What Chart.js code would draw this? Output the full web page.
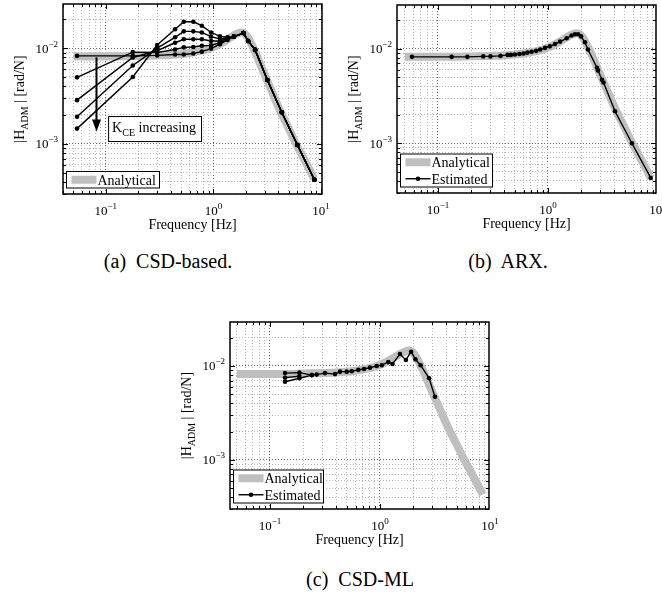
<!DOCTYPE html>
<html>
<head>
<meta charset="utf-8">
<script src="https://cdn.jsdelivr.net/npm/chart.js@4.4.0/dist/chart.umd.min.js"></script>
<style>
  body { margin: 0; background: #fff; width: 662px; height: 598px; position: relative; overflow: hidden; font-family: "Liberation Serif", serif; }
  canvas { position: absolute; }
  .cap { position: absolute; font-size: 20px; white-space: pre; transform: translateX(-50%); color: #000; }
</style>
</head>
<body>
<canvas id="chartA" width="331" height="250" style="left:0;top:0"></canvas>
<canvas id="chartB" width="331" height="250" style="left:331px;top:0"></canvas>
<canvas id="chartC" width="340" height="270" style="left:165px;top:290px"></canvas>
<div class="cap" style="left:168px;top:250px">(a)  CSD-based.</div>
<div class="cap" style="left:508px;top:250px">(b)  ARX.</div>
<div class="cap" style="left:360px;top:568px">(c)  CSD-ML</div>
<script>
// analytical response (same in all three panels)
const anaFreq = [0.05, 0.1, 0.2, 0.3, 0.4, 0.5, 0.6, 0.7, 0.8, 0.9, 1.0, 1.1, 1.2, 1.3, 1.4, 1.5, 1.6, 1.7, 1.8, 1.9, 2.0, 2.1, 2.2, 2.35, 2.5, 2.8, 3.1, 3.5, 4.1, 5.0, 5.8, 7.0, 8.6];
const anaMag = [0.0082, 0.0082, 0.0083, 0.0084, 0.0085, 0.0087, 0.0089, 0.0092, 0.0095, 0.0098, 0.0103, 0.0108, 0.0114, 0.0120, 0.0127, 0.0133, 0.0139, 0.0143, 0.0146, 0.0145, 0.0138, 0.0128, 0.0117, 0.0100, 0.0086, 0.0063, 0.0048, 0.0035, 0.0023, 0.00145, 0.00102, 0.00068, 0.00043];

// (a) CSD-based, one curve per K_CE
const csdFreq = [0.054, 0.178, 0.30, 0.44, 0.53, 0.65, 0.78, 0.95, 1.15, 1.35, 1.55, 1.9, 2.1, 2.44, 3.17, 4.31, 6.03, 8.67];
const csdK1 = [0.0083, 0.0083, 0.0084, 0.0086, 0.0086, 0.0088, 0.0092, 0.0099, 0.0110, 0.0122, 0.0132, 0.0144, 0.0119, 0.0096, 0.00464, 0.00214, 0.00097, 0.00042];
const csdK2 = [0.00495, 0.0091, 0.0090, 0.0097, 0.0102, 0.0103, 0.0106, 0.0107, 0.0114, 0.0124, 0.0132, 0.0144, 0.0119, 0.0096, 0.00464, 0.00214, 0.00097, 0.00042];
const csdK3 = [0.00286, 0.0080, 0.0094, 0.0114, 0.0124, 0.0124, 0.0124, 0.0119, 0.0119, 0.0126, 0.0132, 0.0144, 0.0119, 0.0096, 0.00464, 0.00214, 0.00097, 0.00042];
const csdK4 = [0.00192, 0.0066, 0.0100, 0.0130, 0.0150, 0.0150, 0.0146, 0.0132, 0.0125, 0.0128, 0.0132, 0.0144, 0.0119, 0.0096, 0.00464, 0.00214, 0.00097, 0.00042];
const csdK5 = [0.00144, 0.0050, 0.0108, 0.0158, 0.0189, 0.0189, 0.0172, 0.0146, 0.0133, 0.0130, 0.0132, 0.0144, 0.0119, 0.0096, 0.00464, 0.00214, 0.00097, 0.00042];

// (b) ARX
const arxFreq = [0.058, 0.133, 0.185, 0.258, 0.30, 0.37, 0.43, 0.46, 0.50, 0.55, 0.60, 0.65, 0.71, 0.78, 0.85, 0.94, 1.04, 1.16, 1.29, 1.48, 1.64, 1.76, 1.88, 2.0, 2.17, 2.31, 2.79, 2.85, 3.1, 3.2, 4.07, 5.8, 8.6];
const arxMag = [0.0082, 0.0082, 0.0082, 0.0083, 0.0083, 0.0084, 0.0086, 0.0086, 0.0087, 0.0088, 0.0089, 0.0091, 0.0093, 0.0095, 0.0098, 0.0102, 0.0106, 0.0112, 0.0119, 0.0129, 0.0138, 0.0142, 0.0142, 0.0135, 0.0117, 0.0098, 0.0063, 0.0059, 0.0047, 0.0044, 0.00218, 0.00100, 0.00043];

// (c) CSD-ML
const mlFreq = [0.137, 0.185, 0.24, 0.266, 0.316, 0.39, 0.433, 0.498, 0.553, 0.635, 0.716, 0.811, 0.933, 1.04, 1.19, 1.3, 1.52, 1.72, 1.92, 2.1, 2.34, 2.8, 3.16];
const mlMag = [0.0084, 0.0085, 0.0080, 0.0081, 0.0084, 0.0082, 0.0087, 0.0087, 0.0088, 0.0091, 0.0093, 0.0096, 0.0100, 0.0102, 0.0110, 0.0105, 0.0134, 0.0116, 0.0142, 0.0118, 0.0102, 0.0074, 0.0047];
const mlFreq2 = [0.137, 0.185, 0.24];
const mlMag2 = [0.0068, 0.0074, 0.0080];
const mlFreq3 = [0.137, 0.185];
const mlMag3 = [0.0075, 0.0078];

// labelled ticks
const xTickValues = [0.1, 1, 10];
const yTickValues = [0.001, 0.01];

const FONT = '"Liberation Serif", serif';

const pts = (xs, ys) => xs.map((x, i) => ({ x: x, y: ys[i] }));
const isDecade = v => Math.abs(Math.log10(v) - Math.round(Math.log10(v))) < 1e-6;

// 1..9 x 10^n grid, like matlab's minor grid
function gridTicks(min, max) {
    const out = [];
    for (let e = -5; e <= 2; e++) {
        for (let m = 1; m <= 9; m++) {
            const v = m * Math.pow(10, e);
            if (v >= min * 0.999 && v <= max * 1.001) out.push({ value: v });
        }
    }
    return out;
}

function drawPow(ctx, v, x, y, align) {
    const e = Math.round(Math.log10(v));
    const exp = (e < 0 ? '\u2212' : '') + Math.abs(e);
    ctx.font = '13px ' + FONT;
    const wb = ctx.measureText('10').width;
    ctx.font = '9px ' + FONT;
    const we = ctx.measureText(exp).width;
    const x0 = align === 'center' ? x - (wb + we) / 2 : x - wb - we;
    ctx.textAlign = 'left';
    ctx.font = '13px ' + FONT;
    ctx.fillText('10', x0, y);
    ctx.font = '9px ' + FONT;
    ctx.fillText(exp, x0 + wb, y - 6);
}

// draws parts [{t, size, dy}] from x, returns width
function drawParts(ctx, parts, x, y, measureOnly) {
    let w = 0;
    parts.forEach(p => {
        ctx.font = p.size + 'px ' + FONT;
        if (!measureOnly) ctx.fillText(p.t, x + w, y + (p.dy || 0));
        w += ctx.measureText(p.t).width;
    });
    return w;
}

const matlabPlugin = {
    id: 'matlab',
    afterDraw(chart, args, opts) {
        const ctx = chart.ctx, ca = chart.chartArea;
        const xs = chart.scales.x, ys = chart.scales.y;
        ctx.save();
        ctx.fillStyle = '#000';
        ctx.strokeStyle = '#000';

        // inward tick marks
        ctx.lineWidth = 1;
        ctx.beginPath();
        xs.ticks.forEach(t => {
            const p = Math.round(xs.getPixelForValue(t.value)) + 0.5;
            const L = isDecade(t.value) ? 5 : 3;
            ctx.moveTo(p, ca.bottom); ctx.lineTo(p, ca.bottom - L);
            ctx.moveTo(p, ca.top); ctx.lineTo(p, ca.top + L);
        });
        ys.ticks.forEach(t => {
            const p = Math.round(ys.getPixelForValue(t.value)) + 0.5;
            const L = isDecade(t.value) ? 5 : 3;
            ctx.moveTo(ca.left, p); ctx.lineTo(ca.left + L, p);
            ctx.moveTo(ca.right, p); ctx.lineTo(ca.right - L, p);
        });
        ctx.stroke();

        // axes box
        ctx.lineWidth = 1.5;
        ctx.strokeRect(ca.left, ca.top, ca.right - ca.left, ca.bottom - ca.top);

        // tick labels
        ctx.textBaseline = 'alphabetic';
        xTickValues.forEach(v => drawPow(ctx, v, xs.getPixelForValue(v), ca.bottom + 21, 'center'));
        yTickValues.forEach(v => drawPow(ctx, v, ca.left - 5, ys.getPixelForValue(v) + 4.5, 'right'));

        // x title
        ctx.font = '14px ' + FONT;
        ctx.textAlign = 'center';
        ctx.fillText('Frequency [Hz]', (ca.left + ca.right) / 2, ca.bottom + 35);

        // y title |H_ADM | [rad/N]
        const yParts = [{ t: '|H', size: 14 }, { t: 'ADM', size: 10, dy: 4 }, { t: ' | [rad/N]', size: 14 }];
        ctx.textAlign = 'left';
        ctx.save();
        ctx.translate(ca.left - 39, (ca.top + ca.bottom) / 2);
        ctx.rotate(-Math.PI / 2);
        const tw = drawParts(ctx, yParts, 0, 0, true);
        drawParts(ctx, yParts, -tw / 2, 0);
        ctx.restore();

        // annotation for panel (a)
        if (opts.arrow) {
            const a = opts.arrow;
            const ax = Math.round(xs.getPixelForValue(a.x)) + 0.5;
            const y0 = ys.getPixelForValue(a.from), y1 = ys.getPixelForValue(a.to);
            ctx.lineWidth = 2;
            ctx.beginPath(); ctx.moveTo(ax, y0); ctx.lineTo(ax, y1 - 10); ctx.stroke();
            ctx.beginPath();
            ctx.moveTo(ax - 4.5, y1 - 12); ctx.lineTo(ax + 4.5, y1 - 12); ctx.lineTo(ax, y1);
            ctx.closePath(); ctx.fill();

            const bx = xs.getPixelForValue(a.boxX), by = ys.getPixelForValue(a.boxY);
            const bParts = [{ t: 'K', size: 14 }, { t: 'CE', size: 10, dy: 4 }, { t: ' increasing', size: 14 }];
            const bw = drawParts(ctx, bParts, 0, 0, true) + 9;
            ctx.fillStyle = '#fff';
            ctx.fillRect(bx, by, bw, 25);
            ctx.lineWidth = 1;
            ctx.strokeRect(bx + 0.5, by + 0.5, bw, 25);
            ctx.fillStyle = '#000';
            ctx.textAlign = 'left';
            drawParts(ctx, bParts, bx + 4, by + 16);
        }

        // legend box in lower left corner
        if (opts.legend) {
            const items = opts.legend.items;
            const bw = opts.legend.width, rowH = 16.5;
            const bh = items.length * rowH;
            const bx = ca.left + 3.5, by = ca.bottom - 6 - bh;
            ctx.fillStyle = '#fff';
            ctx.fillRect(bx, by, bw, bh);
            ctx.lineWidth = 1;
            ctx.strokeStyle = '#000';
            ctx.strokeRect(bx, by, bw, bh);
            items.forEach((idx, i) => {
                const ds = chart.data.datasets[idx];
                const cy = by + rowH / 2 + i * rowH;
                ctx.strokeStyle = ds.borderColor;
                ctx.lineWidth = ds.borderWidth;
                ctx.lineCap = 'butt';
                ctx.beginPath(); ctx.moveTo(bx + 5, cy); ctx.lineTo(bx + 30, cy); ctx.stroke();
                if (ds.pointRadius) {
                    ctx.fillStyle = ds.pointBackgroundColor;
                    ctx.beginPath(); ctx.arc(bx + 17.5, cy, ds.pointRadius, 0, Math.PI * 2); ctx.fill();
                }
                ctx.fillStyle = '#000';
                ctx.font = '14px ' + FONT;
                ctx.textAlign = 'left';
                ctx.fillText(ds.label, bx + 31, cy + 5);
            });
        }
        ctx.restore();
    }
};

function logAxis(min, max) {
    return {
        type: 'logarithmic',
        min: min,
        max: max,
        afterBuildTicks: s => { s.ticks = gridTicks(s.min, s.max); },
        ticks: { display: false },
        grid: {
            drawTicks: false,
            lineWidth: 1,
            color: c => (c.tick && isDecade(c.tick.value)) ? '#666' : '#b8b8b8'
        },
        border: { display: false, dash: [1, 2] }
    };
}

function analyticalDataset() {
    return {
        label: 'Analytical',
        data: pts(anaFreq, anaMag),
        borderColor: '#bfbfbf',
        borderWidth: 8,
        pointRadius: 0,
        cubicInterpolationMode: 'monotone',
        borderCapStyle: 'butt',
        borderJoinStyle: 'round'
    };
}

function estimatedDataset(label, xs, ys) {
    return {
        label: label,
        data: pts(xs, ys),
        borderColor: '#000',
        backgroundColor: '#000',
        pointBackgroundColor: '#000',
        borderWidth: 1.4,
        pointRadius: 2.3,
        pointBorderWidth: 0
    };
}

function drawPanel(canvasId, datasets, xRange, yRange, padding, extra) {
    const ctx = document.getElementById(canvasId).getContext('2d');
    return new Chart(ctx, {
        type: 'line',
        data: { datasets: datasets },
        options: {
            responsive: false,
            animation: false,
            events: [],
            layout: { padding: padding },
            scales: {
                x: logAxis(xRange[0], xRange[1]),
                y: logAxis(yRange[0], yRange[1])
            },
            plugins: {
                legend: { display: false },
                tooltip: { enabled: false },
                matlab: extra
            }
        },
        plugins: [matlabPlugin]
    });
}

// analytical goes last so it is drawn underneath
drawPanel('chartA', [
    estimatedDataset('K1', csdFreq, csdK1),
    estimatedDataset('K2', csdFreq, csdK2),
    estimatedDataset('K3', csdFreq, csdK3),
    estimatedDataset('K4', csdFreq, csdK4),
    estimatedDataset('K5', csdFreq, csdK5),
    analyticalDataset()
], [0.04, 10.2], [0.000298, 0.029], { left: 63, top: 4, right: 9, bottom: 56 }, {
    legend: { items: [5], width: 93 },
    arrow: { x: 0.081, from: 0.0080, to: 0.00134, boxX: 0.105, boxY: 0.00195 }
});

drawPanel('chartB', [
    estimatedDataset('Estimated', arxFreq, arxMag),
    analyticalDataset()
], [0.0424, 9.6], [0.000298, 0.029], { left: 66, top: 5, right: 6, bottom: 57 }, {
    legend: { items: [1, 0], width: 92 }
});

drawPanel('chartC', [
    estimatedDataset('Estimated', mlFreq, mlMag),
    estimatedDataset('Estimated', mlFreq2, mlMag2),
    estimatedDataset('Estimated', mlFreq3, mlMag3),
    analyticalDataset()
], [0.0433, 9.8], [0.000301, 0.0294], { left: 65, top: 32, right: 16, bottom: 51 }, {
    legend: { items: [3, 0], width: 90 }
});
</script>
</body>
</html>
